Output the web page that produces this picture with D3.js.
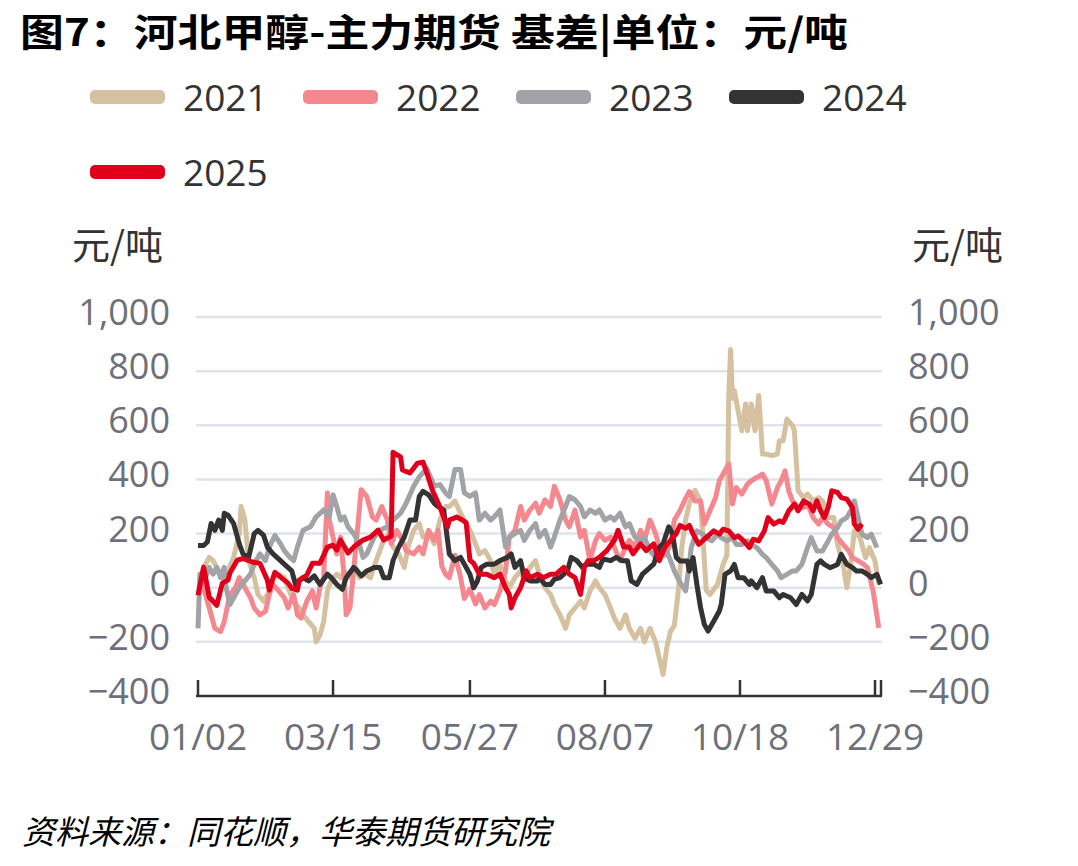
<!DOCTYPE html>
<html>
<head>
<meta charset="utf-8">
<title></title>
<script src="https://d3js.org/d3.v7.min.js"></script>
<style>
  body { margin: 0; background: #fff; }
  text { font-family: "Open Sans", "Noto Sans CJK SC", sans-serif; }
  .cjk { font-family: "Noto Sans CJK SC", sans-serif; }
</style>
</head>
<body>
<svg id="chart" width="1078" height="866"></svg>
<script>
// [day of year, basis in yuan/ton]
var s2021 = [[3,37],[6,87],[8,112],[10,100],[13,62],[16,25],[18,62],[21,112],[24,200],[25,300],[27,250],[29,100],[32,37],[34,-25],[37,-50],[40,-12],[42,37],[45,50],[48,37],[50,0],[53,-50],[56,-75],[58,-100],[61,-125],[64,-150],[65,-200],[67,-175],[69,-125],[71,-12],[73,25],[76,50],[78,37],[80,62],[83,37],[86,75],[88,37],[91,50],[94,37],[97,100],[101,175],[104,200],[106,150],[109,125],[112,75],[114,150],[117,212],[120,237],[122,187],[125,200],[128,162],[131,250],[134,300],[136,300],[139,320],[142,275],[144,250],[147,212],[150,162],[152,125],[155,137],[158,100],[160,50],[163,87],[166,25],[168,0],[171,37],[174,62],[176,25],[179,75],[182,100],[184,50],[187,0],[190,-25],[192,-62],[195,-100],[198,-150],[200,-100],[203,-75],[206,-50],[208,-75],[211,-12],[214,25],[216,0],[219,-25],[222,-75],[224,-112],[227,-150],[230,-100],[232,-150],[235,-187],[238,-150],[240,-200],[243,-150],[246,-200],[248,-260],[250,-320],[252,-220],[254,-160],[256,-140],[258,-20],[260,150],[262,250],[264,310],[267,360],[270,320],[272,100],[273,-10],[275,-25],[279,12],[282,86],[284,120],[285,700],[286,880],[287,700],[288,728],[290,654],[292,580],[294,679],[295,580],[297,679],[299,580],[301,710],[303,494],[305,494],[308,488],[311,494],[312,543],[314,543],[316,623],[319,599],[320,580],[322,358],[325,333],[327,346],[330,321],[333,333],[335,321],[338,259],[341,259],[343,160],[346,86],[348,0],[350,86],[352,210],[355,185],[358,111],[360,148],[363,99],[365,12]];

var s2022 = [[3,37],[6,-25],[8,-75],[11,-150],[14,-162],[16,-125],[19,-25],[22,0],[24,37],[27,0],[30,-37],[32,-75],[35,-100],[38,-87],[40,-25],[42,12],[45,-12],[48,-37],[50,-75],[53,-25],[55,-100],[57,-112],[60,-50],[63,-12],[65,-75],[67,0],[69,37],[71,350],[72,250],[74,187],[76,125],[78,187],[80,37],[81,-100],[83,-75],[85,62],[87,212],[89,362],[92,337],[95,262],[97,250],[100,300],[103,250],[105,162],[108,212],[111,175],[113,137],[117,125],[120,150],[122,125],[125,212],[128,175],[130,212],[132,80],[134,50],[136,37],[139,120],[142,40],[144,-40],[147,-5],[150,-60],[152,-25],[155,-75],[158,-50],[160,-62],[163,-12],[166,62],[168,187],[171,212],[174,300],[176,250],[179,287],[182,312],[184,275],[187,325],[190,300],[192,375],[195,325],[198,250],[200,225],[203,287],[206,187],[208,212],[211,100],[214,175],[216,200],[219,175],[222,187],[224,150],[227,100],[230,150],[232,175],[235,150],[238,212],[240,175],[243,250],[246,200],[248,150],[251,120],[254,160],[256,250],[259,285],[262,330],[264,355],[267,320],[270,320],[272,235],[275,284],[278,333],[280,395],[283,432],[285,457],[287,309],[289,370],[292,346],[295,383],[297,395],[300,407],[303,420],[305,395],[308,309],[311,370],[313,395],[315,432],[317,358],[319,321],[322,296],[325,296],[327,309],[330,259],[333,235],[335,259],[338,235],[341,222],[343,185],[346,160],[349,136],[351,111],[354,99],[357,86],[359,74],[362,-12],[365,-148]];

var s2023 = [[2,-150],[3,50],[6,37],[8,75],[10,50],[12,75],[14,37],[16,75],[17,0],[19,-62],[22,-25],[24,0],[27,25],[30,50],[32,87],[35,125],[38,100],[40,150],[43,193],[46,162],[48,137],[51,112],[53,100],[55,150],[58,212],[62,225],[65,262],[69,287],[72,262],[74,343],[76,300],[78,250],[80,262],[82,225],[85,200],[88,162],[90,112],[92,125],[96,187],[99,212],[103,225],[106,250],[110,275],[113,312],[117,375],[120,410],[124,440],[128,375],[131,381],[134,350],[136,337],[139,437],[142,437],[144,350],[147,337],[150,350],[152,250],[155,275],[158,250],[160,262],[163,287],[166,150],[168,187],[171,200],[174,212],[176,175],[179,212],[182,237],[184,187],[187,212],[190,150],[192,187],[195,250],[198,300],[200,337],[203,325],[206,300],[208,262],[211,287],[214,275],[216,287],[219,250],[222,262],[224,250],[227,275],[230,225],[232,237],[235,187],[238,175],[240,187],[243,137],[246,112],[248,140],[251,150],[254,100],[256,62],[259,20],[262,-12],[264,90],[265,148],[268,210],[271,198],[273,185],[276,173],[279,198],[281,185],[284,173],[287,185],[289,160],[292,160],[295,173],[297,160],[300,148],[303,123],[305,111],[308,86],[311,62],[313,37],[316,49],[319,62],[321,62],[324,86],[327,148],[329,185],[332,136],[335,136],[337,160],[340,198],[343,222],[345,247],[348,259],[351,296],[352,321],[354,259],[356,198],[359,185],[361,198],[364,148]];

var s2024 = [[2,156],[5,156],[7,169],[9,237],[11,212],[13,250],[15,212],[16,275],[18,268],[21,237],[24,162],[26,125],[29,112],[32,200],[34,212],[37,193],[39,150],[42,125],[46,100],[49,81],[52,62],[54,12],[58,37],[61,25],[64,44],[67,12],[71,50],[73,37],[76,12],[79,-6],[81,37],[85,75],[87,62],[89,44],[92,62],[96,75],[99,75],[101,37],[104,37],[106,100],[109,150],[112,187],[115,250],[118,250],[120,337],[122,356],[125,343],[128,312],[130,300],[133,287],[136,125],[139,100],[142,112],[144,87],[147,50],[149,0],[151,25],[153,75],[156,87],[160,87],[163,100],[167,112],[169,125],[171,75],[174,100],[176,37],[179,25],[183,25],[184,37],[187,12],[190,12],[192,31],[195,37],[199,62],[201,112],[204,100],[207,75],[209,87],[213,87],[216,75],[218,106],[222,100],[225,112],[228,100],[231,100],[233,25],[236,12],[239,50],[241,62],[245,87],[248,150],[250,162],[253,225],[255,200],[257,112],[259,99],[263,99],[264,62],[266,111],[268,12],[270,-74],[272,-136],[274,-160],[277,-124],[280,-86],[281,-62],[283,49],[286,62],[288,86],[290,37],[293,37],[296,12],[297,25],[300,0],[303,37],[305,-12],[309,-12],[312,-37],[314,-25],[318,-37],[321,-62],[324,-25],[327,-49],[329,-25],[332,86],[334,99],[336,86],[339,74],[343,86],[345,123],[348,86],[351,74],[353,62],[356,62],[359,49],[361,37],[364,49],[366,12]];

var s2025 = [[2,-28],[5,76],[8,-35],[12,-65],[15,17],[18,28],[19,54],[23,102],[26,108],[31,95],[35,90],[39,28],[40,-9],[43,57],[46,39],[50,17],[52,-2],[55,-9],[56,28],[60,46],[63,90],[67,90],[71,150],[74,157],[76,139],[78,176],[82,128],[85,150],[90,176],[94,187],[98,213],[101,176],[104,187],[105,190],[106,500],[110,483],[111,435],[115,424],[119,460],[122,464],[124,424],[127,360],[131,298],[135,224],[136,250],[140,261],[143,250],[145,240],[147,102],[149,90],[152,50],[156,50],[160,37],[163,50],[166,0],[168,-25],[169,-75],[171,-37],[174,0],[177,62],[179,37],[183,50],[186,37],[190,50],[193,50],[197,75],[200,50],[203,37],[206,-25],[208,75],[210,100],[213,100],[216,112],[220,137],[224,175],[226,212],[229,150],[232,150],[234,125],[238,162],[241,137],[245,162],[248,100],[251,150],[254,175],[257,200],[259,230],[262,220],[264,230],[266,198],[269,160],[272,179],[274,191],[277,210],[280,198],[282,216],[285,210],[288,185],[290,191],[293,173],[296,148],[298,179],[301,173],[304,210],[306,259],[309,235],[312,247],[314,241],[317,284],[320,309],[322,284],[325,321],[328,309],[330,284],[332,321],[334,284],[336,259],[338,296],[340,358],[343,352],[345,333],[348,327],[351,296],[352,235],[354,216],[356,235]];

var years = ["2021", "2022", "2023", "2024", "2025"];
var seriesData = [s2021, s2022, s2023, s2024, s2025];
var colors = ["#d5c19f", "#f4888e", "#a1a3a6", "#333333", "#e0001b"];

var tickDays = [2, 74, 147, 219, 291, 363];
var tickLabels = ["01/02", "03/15", "05/27", "08/07", "10/18", "12/29"];
var yTicks = [-400, -200, 0, 200, 400, 600, 800, 1000];

var svg = d3.select("#chart");

var x = d3.scaleLinear().domain([2, 363]).range([198, 875]);
var y = d3.scaleLinear().domain([-400, 1000]).range([696, 317]);
var left = 196, right = 882;

// title
svg.append("text")
  .attr("class", "cjk")
  .attr("x", 20).attr("y", 46)
  .attr("textLength", 828).attr("lengthAdjust", "spacingAndGlyphs")
  .style("font-size", "38px").style("font-weight", "bold").style("fill", "#000")
  .text("图7：河北甲醇-主力期货 基差|单位：元/吨");

// legend
var legend = svg.append("g");
years.forEach(function(yr, i) {
  var row = i < 4 ? 0 : 1;
  var col = i < 4 ? i : 0;
  var gx = 90 + col * 213, gy = 97 + row * 75;
  legend.append("rect")
    .attr("x", gx).attr("y", gy - 7).attr("width", 75).attr("height", 14)
    .attr("rx", 5).attr("fill", colors[i]);
  legend.append("text")
    .attr("x", gx + 93).attr("y", gy + 14)
    .style("font-size", "37px").style("fill", "#333")
    .text(yr);
});

// unit labels
svg.append("text").attr("class", "cjk").attr("x", 72).attr("y", 259)
  .style("font-size", "38px").style("fill", "#333").text("元/吨");
svg.append("text").attr("class", "cjk").attr("x", 912).attr("y", 259)
  .style("font-size", "38px").style("fill", "#333").text("元/吨");

// grid lines
svg.append("g").selectAll("line")
  .data(yTicks.filter(function(d) { return d > -400; }))
  .enter().append("line")
  .attr("x1", left).attr("x2", right)
  .attr("y1", function(d) { return y(d); })
  .attr("y2", function(d) { return y(d); })
  .style("stroke", "#dfe3ec").style("stroke-width", 2.5);

// y labels on both sides
var fmt = d3.format(",");
svg.append("g").selectAll("text")
  .data(yTicks).enter().append("text")
  .attr("x", 170).attr("y", function(d) { return y(d) + 8; })
  .attr("text-anchor", "end")
  .style("font-size", "36px").style("fill", "#6e7079")
  .text(function(d) { return fmt(d); });
svg.append("g").selectAll("text")
  .data(yTicks).enter().append("text")
  .attr("x", 908).attr("y", function(d) { return y(d) + 8; })
  .style("font-size", "36px").style("fill", "#6e7079")
  .text(function(d) { return fmt(d); });

// lines
var line = d3.line()
  .x(function(d) { return x(d[0]); })
  .y(function(d) { return y(d[1]); });

svg.append("g").selectAll("path")
  .data(seriesData).enter().append("path")
  .attr("d", function(d) { return line(d); })
  .style("fill", "none")
  .style("stroke", function(d, i) { return colors[i]; })
  .style("stroke-width", 5)
  .style("stroke-linejoin", "round");

// x axis
var xa = svg.append("g");
xa.append("line")
  .attr("x1", left).attr("x2", right).attr("y1", 696).attr("y2", 696)
  .style("stroke", "#333").style("stroke-width", 2.5);
xa.selectAll(".tk")
  .data(tickDays.map(function(d) { return x(d); }).concat([right - 1]))
  .enter().append("line")
  .attr("x1", function(d) { return d; }).attr("x2", function(d) { return d; })
  .attr("y1", 680).attr("y2", 696)
  .style("stroke", "#333").style("stroke-width", 2.5);
xa.selectAll("text")
  .data(tickDays).enter().append("text")
  .attr("x", function(d) { return x(d); }).attr("y", 750)
  .attr("text-anchor", "middle")
  .style("font-size", "37px").style("fill", "#6e7079")
  .text(function(d, i) { return tickLabels[i]; });

// source
svg.append("text").attr("class", "cjk")
  .attr("x", 22).attr("y", 844)
  .style("font-size", "33px").style("font-style", "italic").style("fill", "#000")
  .text("资料来源：同花顺，华泰期货研究院");
</script>
</body>
</html>
